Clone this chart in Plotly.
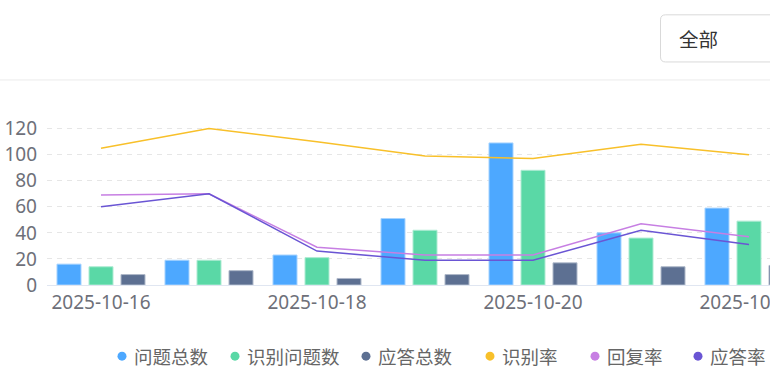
import plotly.graph_objects as go

dates = ["2025-10-16", "2025-10-17", "2025-10-18", "2025-10-19", "2025-10-20", "2025-10-21", "2025-10-22"]
tick_labels = ["2025-10-16", "2025-10-18", "2025-10-20", "2025-10-22"]

question_total = [16, 19, 23, 51, 109, 40, 59]
recognized_questions = [14, 19, 21, 42, 88, 36, 49]
answer_total = [8, 11, 5, 8, 17, 14, 15]
recognition_rate = [105, 120, 110, 99, 97, 108, 100]
reply_rate = [69, 70, 29, 23, 23, 47, 37]
answer_rate = [60, 70, 26, 19, 19, 42, 31]

bar_names = ["问题总数", "识别问题数", "应答总数"]
line_names = ["识别率", "回复率", "应答率"]
bar_colors = ["#4DA8FF", "#5AD8A6", "#5D7092"]
bar_edges = ["#A6D3FF", "#ADEBD2", "#AEB8C9"]
line_colors = ["#F8C02A", "#C77FE3", "#6A55D4"]

W, H = 770, 387
ML, MR = 47, 0
Y0_PX, PX_PER_UNIT = 285, 1.3
Y_MAX = 122
plot_h = Y_MAX * PX_PER_UNIT
MT = Y0_PX - plot_h
MB = H - Y0_PX
plot_w = W - ML - MR
CAT_PX = 108
x_end = -0.5 + plot_w / CAT_PX

def px_x(p):
    return (p - ML) / plot_w

def px_y(p):
    return (Y0_PX - p) / plot_h

fig = go.Figure()
for name, vals, col, edge in zip(bar_names, [question_total, recognized_questions, answer_total], bar_colors, bar_edges):
    fig.add_trace(go.Bar(x=dates, y=vals, name=name, marker=dict(color=col, line=dict(color=edge, width=1)),
                         showlegend=False))
for name, vals, col in zip(line_names, [recognition_rate, reply_rate, answer_rate], line_colors):
    fig.add_trace(go.Scatter(x=dates, y=vals, name=name, mode="lines", line=dict(color=col, width=1.5),
                             showlegend=False))

font_family = "Noto Sans CJK SC, Noto Sans, sans-serif"
tick_family = "Noto Sans, Noto Sans CJK SC, sans-serif"
shapes = []
annotations = []

# top separator line
shapes.append(dict(type="line", xref="paper", yref="paper", x0=px_x(0), x1=px_x(W), y0=px_y(80.5), y1=px_y(80.5),
                   line=dict(color="#EBEBEB", width=1)))
# dropdown box (rounded)
bx0, bx1, by0, by1, r = 660.5, 790, 15.5, 62.5, 5
path = (f"M {px_x(bx0 + r)},{px_y(by0)} L {px_x(bx1)},{px_y(by0)} L {px_x(bx1)},{px_y(by1)} "
        f"L {px_x(bx0 + r)},{px_y(by1)} Q {px_x(bx0)},{px_y(by1)} {px_x(bx0)},{px_y(by1 - r)} "
        f"L {px_x(bx0)},{px_y(by0 + r)} Q {px_x(bx0)},{px_y(by0)} {px_x(bx0 + r)},{px_y(by0)} Z")
shapes.append(dict(type="path", xref="paper", yref="paper", path=path, line=dict(color="#D9D9D9", width=1),
                   fillcolor="white"))
annotations.append(dict(xref="paper", yref="paper", x=px_x(677), y=px_y(39), text="全部", showarrow=False,
                        xanchor="left", yanchor="middle", font=dict(size=19.5, color="#333333", family=font_family)))

# legend
legend_names = bar_names + line_names
legend_colors = bar_colors + line_colors
marker_x = [122, 235, 366, 490, 595, 698]
leg_y = 356
for nm, col, mx in zip(legend_names, legend_colors, marker_x):
    shapes.append(dict(type="circle", xref="paper", yref="paper", x0=px_x(mx - 4.5), x1=px_x(mx + 4.5),
                       y0=px_y(leg_y + 4.5), y1=px_y(leg_y - 4.5), fillcolor=col, line=dict(width=0)))
    annotations.append(dict(xref="paper", yref="paper", x=px_x(mx + 10), y=px_y(leg_y), text=nm, showarrow=False,
                            xanchor="left", yanchor="middle", font=dict(size=18.5, color="#666666", family=font_family)))

fig.update_layout(
    width=W, height=H, autosize=False,
    margin=dict(l=ML, r=MR, t=MT, b=MB, pad=0),
    paper_bgcolor="white", plot_bgcolor="white",
    barmode="group", bargap=0.111, bargroupgap=0.25,
    font=dict(family=font_family, size=19, color="#6E7079"),
    shapes=shapes, annotations=annotations,
    xaxis=dict(type="category", range=[-0.5, x_end], tickmode="array", tickvals=tick_labels, ticktext=tick_labels,
               showgrid=False, showline=True, linecolor="#E0E6F1", linewidth=1, ticks="", zeroline=False,
               automargin=False, tickfont=dict(size=19, color="#6E7079", family=tick_family)),
    yaxis=dict(range=[0, Y_MAX], tickvals=[0, 20, 40, 60, 80, 100, 120], showgrid=True, gridcolor="#E6E6E6",
               griddash="5px,5px", gridwidth=1, zeroline=False, showline=False, ticks="", automargin=False,
               ticklabelstandoff=9, tickfont=dict(size=19, color="#6E7079", family=tick_family)),
)

fig.write_html("out.html", config={"responsive": False, "displayModeBar": False},
               post_script="document.body.style.margin='0';document.documentElement.style.overflow='hidden';")
